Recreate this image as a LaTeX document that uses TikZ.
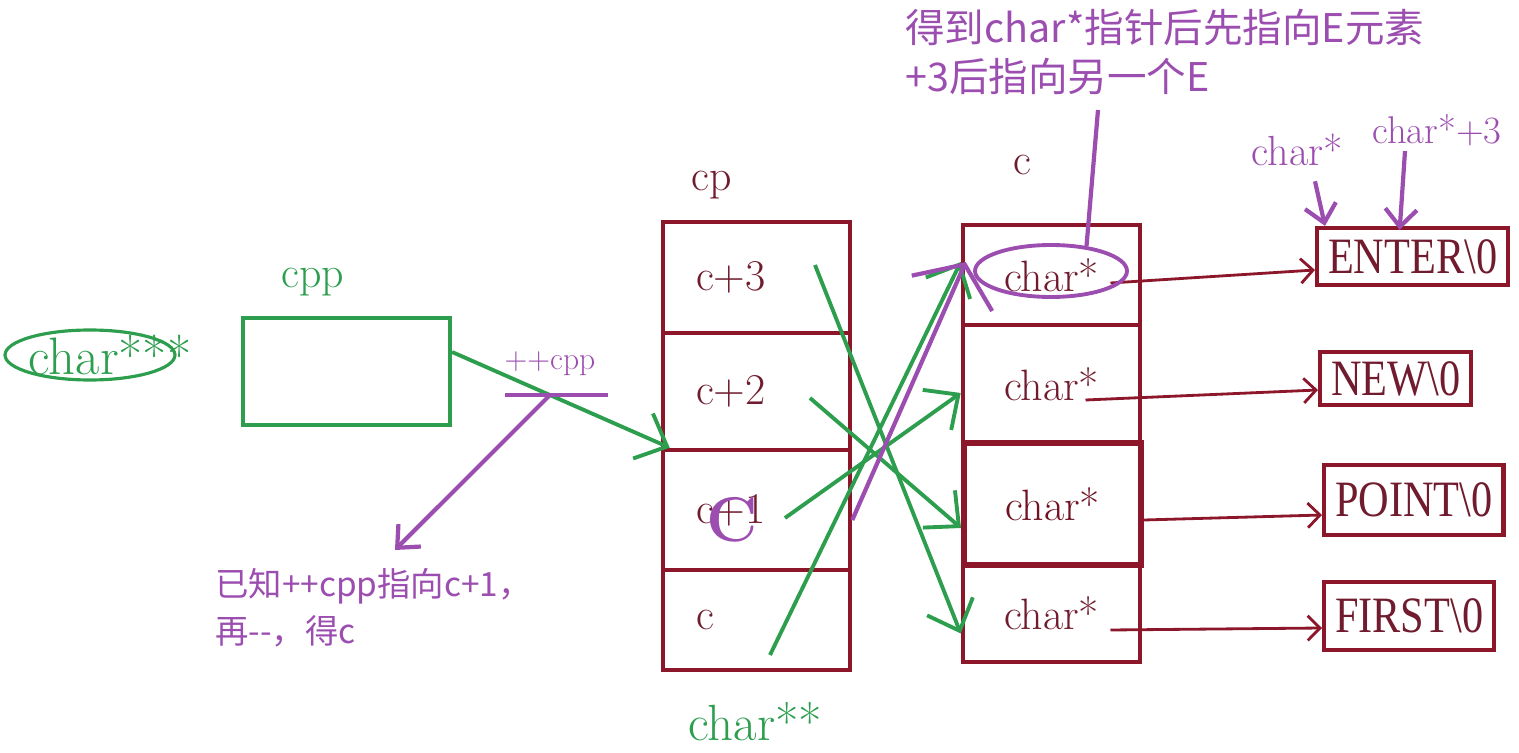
\documentclass[tikz,border=0pt]{standalone}
\usepackage{fontspec}
\usepackage{graphicx}
\usepackage{tikz}
\usetikzlibrary{arrows.meta, positioning, shapes.geometric}
\newfontfamily\cjk{Noto Sans CJK SC}
\newfontfamily\strfont{Liberation Serif}
\definecolor{boxred}{RGB}{140,22,42}
\definecolor{cellred}{RGB}{112,28,46}
\definecolor{pengreen}{RGB}{44,158,78}
\definecolor{penpurple}{RGB}{156,78,176}
\newcommand{\strtext}[1]{\scalebox{0.83}[1]{\strfont #1}}
\tikzstyle{cell} = [rectangle, draw=boxred, line width=2.6pt, text=cellred,
inner sep=0pt, font=\fontsize{25}{30}\selectfont]
\tikzstyle{cpcell} = [cell, text width=2.42cm, inner xsep=0.66cm, align=left]
\tikzstyle{ccell} = [cell, minimum width=3.54cm]
\tikzstyle{strbox} = [rectangle, draw=boxred, line width=2.4pt, text=cellred,
inner xsep=0.22cm, inner ysep=0pt, anchor=west,
font=\fontsize{29}{30}\selectfont]
\tikzstyle{lbl} = [inner sep=0pt, font=\fontsize{25}{30}\selectfont]
\tikzstyle{garrow} = [pengreen, line width=2.2pt, -{Straight Barb[length=15pt, width=28pt]}]
\tikzstyle{rarrow} = [boxred, line width=1.6pt, -{Straight Barb[length=7pt, width=14pt]}]
\tikzstyle{parrow} = [penpurple, line width=2.4pt, -{Straight Barb[length=10pt, width=18pt]}]

\begin{document}
\begin{tikzpicture}[x=0.02cm, y=-0.02cm]
        \useasboundingbox (0,0) rectangle (1519,753);

        % cpp
        \node[ellipse, draw=pengreen, line width=1.8pt, minimum width=3.4cm, minimum height=1cm] (tag) at (90,355) {};
        \node[lbl, text=pengreen, font=\fontsize{30}{30}\selectfont] (cppType) at (110,355) {char***};
        \node[rectangle, draw=pengreen, line width=2.4pt, minimum width=4.14cm, minimum height=2.14cm] (cpp) at (346.5,371.5) {};
        \node[lbl, text=pengreen] (cppName) at (313,282) {cpp};

        % cp
        \node[cpcell, minimum height=2.22cm] (cp3) at (756.5,277.5) {c+3};
        \node[cpcell, minimum height=2.34cm] (cp2) at (756.5,391.5) {c+2};
        \node[cpcell, minimum height=2.40cm] (cp1) at (756.5,510) {c+1};
        \node[cpcell, minimum height=2.00cm] (cp0) at (756.5,620) {c};
        \node[lbl, text=cellred] (cpName) at (712,185) {cp};
        \node[lbl, text=pengreen, font=\fontsize{29}{30}\selectfont] (cpType) at (755,722) {char**};
        \node[lbl, text=penpurple, font=\bfseries\fontsize{36}{36}\selectfont] (bigC) at (732,520) {C};

        % c
        \node[ccell, minimum height=2.00cm] (c0) at (1051.5,275) {char*};
        \node[ccell, minimum height=2.36cm] (c1) at (1051.5,384) {char*};
        \node[ccell, minimum height=2.44cm, line width=3.4pt, text=boxred!80!black] (c2) at (1052.5,504) {char*};
        \node[ccell, minimum height=1.94cm] (c3) at (1051.5,613.5) {char*};
        \node[lbl, text=cellred] (cName) at (1022,165) {c};

        % strings
        \node[strbox, minimum height=1.14cm] (enter) at (1315,256.5) {\strtext{ENTER\textbackslash 0}};
        \node[strbox, minimum height=1.06cm] (new) at (1318,378.5) {\strtext{NEW\textbackslash 0}};
        \node[strbox, minimum height=1.40cm] (point) at (1322,500) {\strtext{POINT\textbackslash 0}};
        \node[strbox, minimum height=1.36cm] (first) at (1322,616) {\strtext{FIRST\textbackslash 0}};

        \draw[rarrow] ([xshift=1.18cm, yshift=-0.16cm]c0.center) -- ([yshift=-0.27cm]enter.west);
        \draw[rarrow] ([xshift=0.68cm, yshift=-0.32cm]c1.center) -- ([yshift=-0.23cm]new.west);
        \draw[rarrow] ([yshift=-0.32cm]c2.east) -- ([yshift=-0.3cm]point.west);
        \draw[rarrow] ([xshift=1.18cm, yshift=-0.33cm]c3.center) -- ([yshift=-0.24cm]first.west);

        % green pen
        \draw[garrow] ([yshift=0.39cm]cpp.east) -- ([xshift=0.18cm]cp1.north west);
        \draw[garrow] ([xshift=1.17cm, yshift=0.25cm]cp3.center) -- ([yshift=-0.4cm]c3.west);
        \draw[garrow] ([xshift=1.07cm, yshift=-0.13cm]cp2.center) -- ([yshift=-0.48cm]c2.west);
        \draw[garrow] ([xshift=0.57cm, yshift=-0.16cm]cp1.center) -- ([yshift=-0.18cm]c1.west);
        \draw[garrow] ([xshift=0.27cm, yshift=-0.7cm]cp0.center) -- ([yshift=0.26cm]c0.west);

        % purple pen
        \node[lbl, text=penpurple, font=\fontsize{18}{20}\selectfont] (inc) at (550,364) {++cpp};
        \draw[penpurple, line width=2.4pt] (505,395) -- (608,395);
        \coordinate (barMid) at (550,395);
        \node[anchor=north west, align=left, inner sep=0pt, text=penpurple, font=\cjk\fontsize{19}{27}\selectfont] (known) at (215,568) {已知++cpp指向c+1，\\再-{}-，得c};
        \draw[parrow] (barMid) -- ([xshift=3.6cm, yshift=0.36cm]known.north west);

        \node[ellipse, draw=penpurple, line width=2.2pt, minimum width=3.04cm, minimum height=1.04cm] (mark) at (1051,271) {};
        \node[anchor=west, align=left, inner sep=0pt, text=penpurple, font=\cjk\fontsize{22.5}{28}\selectfont] (note) at (905,52) {得到char*指针后先指向E元素\\+3后指向另一个E};
        \coordinate (noteTail) at (1098,110);
        \draw[penpurple, line width=2.4pt] (noteTail) -- (mark.35);
        \draw[parrow, -{Straight Barb[length=18pt, width=50pt]}] ([yshift=-0.2cm]cp1.east) -- ([xshift=0.1cm, yshift=0.26cm]c0.west);

        \node[lbl, text=penpurple, font=\fontsize{24}{26}\selectfont] (ptrA) at (1297,150) {char*};
        \node[lbl, text=penpurple, font=\fontsize{22}{24}\selectfont] (ptrB) at (1437,130) {char*+3};
        \draw[parrow] ([xshift=0.36cm, yshift=-0.3cm]ptrA.south) -- ([xshift=0.2cm]enter.north west);
        \draw[parrow] ([xshift=-0.64cm, yshift=-0.1cm]ptrB.south) -- ([xshift=-0.26cm, yshift=-0.08cm]enter.north);
\end{tikzpicture}
\end{document}
